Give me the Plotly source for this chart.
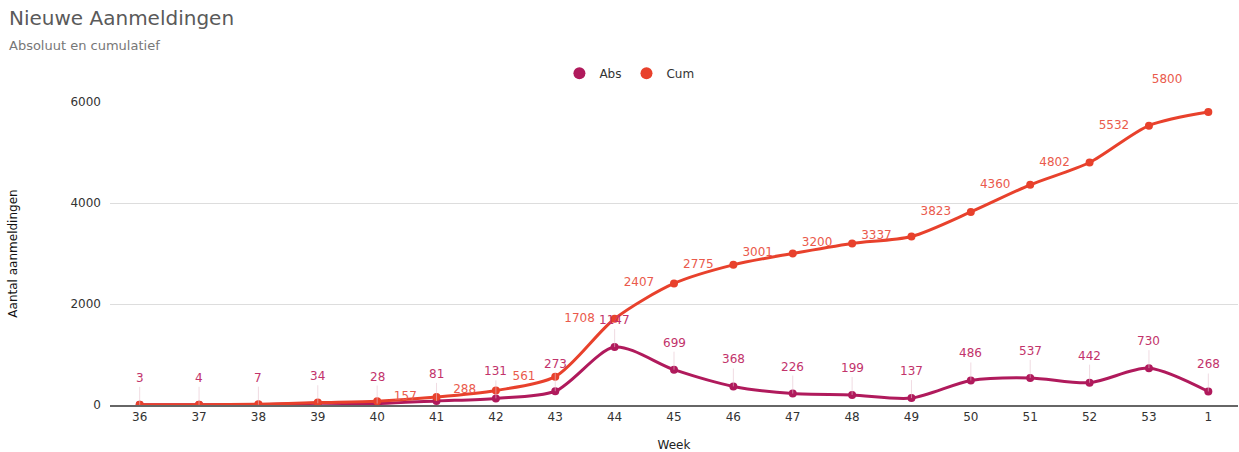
import plotly.graph_objects as go

weeks = ["36", "37", "38", "39", "40", "41", "42", "43", "44", "45", "46", "47", "48", "49", "50", "51", "52", "53", "1"]
abs_vals = [3, 4, 7, 34, 28, 81, 131, 273, 1147, 699, 368, 226, 199, 137, 486, 537, 442, 730, 268]
cum_vals = [3, 7, 14, 48, 76, 157, 288, 561, 1708, 2407, 2775, 3001, 3200, 3337, 3823, 4360, 4802, 5532, 5800]
cum_label_shown = [False, False, False, False, False, True, True, True, True, True, True, True, True, True, True, True, True, True, True]
y_ticks = [0, 2000, 4000, 6000]

ABS_C = "#b01a5c"
CUM_C = "#e8412c"
FONT = "DejaVu Sans, Arial, sans-serif"

xs = list(range(len(weeks)))

fig = go.Figure()
fig.add_trace(go.Scatter(x=xs, y=abs_vals, name="Abs", mode="lines+markers", showlegend=False,
                         line=dict(color=ABS_C, width=3, shape="spline", smoothing=0.8),
                         marker=dict(size=8, color=ABS_C)))
fig.add_trace(go.Scatter(x=xs, y=cum_vals, name="Cum", mode="lines+markers", showlegend=False,
                         line=dict(color=CUM_C, width=3, shape="spline", smoothing=0.8),
                         marker=dict(size=8, color=CUM_C)))

# cumulative value labels (left of the points; last one above-left)
lab_x = [x for x, s in zip(xs, cum_label_shown) if s]
lab_y = [v for v, s in zip(cum_vals, cum_label_shown) if s]
fig.add_trace(go.Scatter(x=lab_x[:-1], y=lab_y[:-1], mode="markers+text", text=[str(v) for v in lab_y[:-1]],
                         textposition="middle left", showlegend=False, hoverinfo="skip", cliponaxis=False,
                         marker=dict(size=30, opacity=0),
                         textfont=dict(family=FONT, size=12, color="#ea5a4c")))
fig.add_trace(go.Scatter(x=lab_x[-1:], y=lab_y[-1:], mode="markers+text", text=[str(v) for v in lab_y[-1:]],
                         textposition="top left", showlegend=False, hoverinfo="skip", cliponaxis=False,
                         marker=dict(size=40, opacity=0),
                         textfont=dict(family=FONT, size=12, color="#ea5a4c")))

# legend entries (circle markers only, as in the reference)
fig.add_trace(go.Scatter(x=[None], y=[None], name="Abs", mode="markers",
                         marker=dict(size=12, color=ABS_C)))
fig.add_trace(go.Scatter(x=[None], y=[None], name="Cum", mode="markers",
                         marker=dict(size=12, color=CUM_C)))

annotations = []
for x, v in zip(xs, abs_vals):
    annotations.append(dict(x=x, y=v, xref="x", yref="y", text=str(v), showarrow=True,
                            arrowhead=0, arrowwidth=0.6, arrowcolor="#e6c3cf", ax=0, ay=-18,
                            xanchor="center", yanchor="bottom",
                            font=dict(family=FONT, size=12, color="#c2336b")))

annotations.append(dict(text="Nieuwe Aanmeldingen", xref="paper", yref="paper", x=0, y=1,
                        xanchor="left", yanchor="middle", xshift=-103, yshift=84,
                        showarrow=False, font=dict(family=FONT, size=20, color="#5a5a5a")))
annotations.append(dict(text="Absoluut en cumulatief", xref="paper", yref="paper", x=0, y=1,
                        xanchor="left", yanchor="middle", xshift=-103, yshift=57,
                        showarrow=False, font=dict(family=FONT, size=13, color="#777777")))

fig.update_layout(
    width=1239, height=452,
    margin=dict(l=110, r=1, t=102, b=47),
    paper_bgcolor="white", plot_bgcolor="white",
    font=dict(family=FONT, size=12, color="#333333"),
    legend=dict(orientation="h", x=0.508, xref="container", xanchor="center",
                y=0.838, yref="container", yanchor="middle",
                font=dict(family=FONT, size=12, color="#333"), itemwidth=30),
    showlegend=True,
    xaxis=dict(range=[-0.5, len(weeks) - 0.5], tickvals=xs, ticktext=weeks,
               title=dict(text="Week", font=dict(size=12, color="#222"), standoff=19),
               showgrid=False, zeroline=False, showline=True, linecolor="#666", linewidth=1.5,
               ticks="", tickfont=dict(size=12, color="#333")),
    yaxis=dict(range=[0, 6000], tickvals=y_ticks, showgrid=True, gridcolor="#dddddd",
               zeroline=False, ticks="", tickfont=dict(size=12, color="#333"), ticklabelstandoff=8,
               title=dict(text="Aantal aanmeldingen", font=dict(size=12, color="#111"), standoff=50)),
    annotations=annotations,
)
fig.write_html("out.html", config={"displayModeBar": False},
               post_script="document.body.style.margin='0';")
